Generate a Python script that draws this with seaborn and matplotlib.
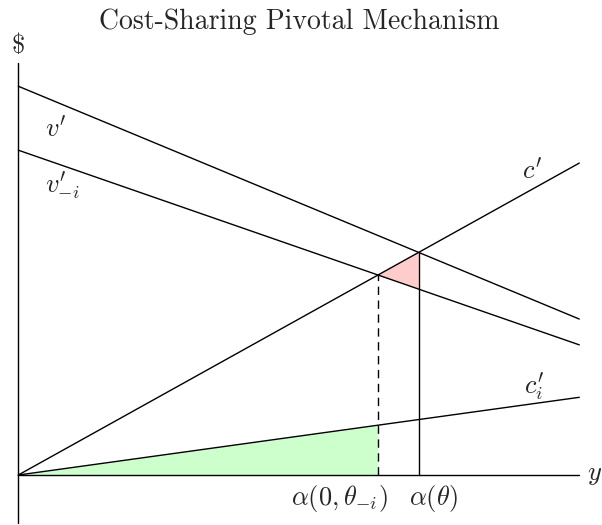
import matplotlib
matplotlib.use("Agg")
import matplotlib.pyplot as plt
import seaborn as sns
import numpy as np
import pandas as pd

sns.set_style("white")
plt.rcParams['mathtext.fontset'] = 'cm'
plt.rcParams['font.family'] = ['cmr10', 'DejaVu Sans']

# quantity axis (y) end points, and curve values there
quantity = [0, 10]
v_prime = [6.93, 2.78]       # v'
v_minus_i = [5.79, 2.32]     # v'_{-i}
c_prime = [0, 5.56]          # c'
c_i = [0, 1.385]             # c'_i

df = pd.DataFrame({'y': quantity * 4,
                   'value': v_prime + v_minus_i + c_prime + c_i,
                   'curve': ['v'] * 2 + ['v_i'] * 2 + ['c'] * 2 + ['c_i'] * 2})


def line_coef(vals):
    slope = (vals[1] - vals[0]) / (quantity[1] - quantity[0])
    return slope, vals[0] - slope * quantity[0]


def cross(a, b):
    sa, ia = line_coef(a)
    sb, ib = line_coef(b)
    return (ib - ia) / (sa - sb)


alpha_theta = cross(v_prime, c_prime)
alpha_0 = cross(v_minus_i, c_prime)

fig = plt.figure(figsize=(6.02, 5.25), dpi=100)
ax = fig.add_axes([0, 0, 1, 1])

sns.lineplot(data=df, x='y', y='value', units='curve', estimator=None,
             color='black', linewidth=1.0, ax=ax, legend=False)

# shaded regions
xs = np.linspace(0, alpha_0, 50)
ax.fill_between(xs, 0, np.interp(xs, quantity, c_i), color='#ccffcc', lw=0, zorder=1)
tri_x = [alpha_0, alpha_theta, alpha_theta]
tri_y = [np.interp(alpha_0, quantity, c_prime),
         np.interp(alpha_theta, quantity, c_prime),
         np.interp(alpha_theta, quantity, v_minus_i)]
ax.fill(tri_x, tri_y, color='#ffcccc', lw=0, zorder=1)

# vertical markers
ax.plot([alpha_theta, alpha_theta], [0, tri_y[1]], color='black', lw=1.0)
ax.plot([alpha_0, alpha_0], [0, tri_y[0]], color='black', lw=1.0, ls=(0, (6, 4)))

# axes
ax.plot([0, 10.0], [0, 0], color='black', lw=1.0)
ax.plot([0, 0], [-0.86, 7.35], color='black', lw=1.0)

ax.set_xlim(-0.326, 10.405)
ax.set_ylim(-0.891, 8.467)
ax.axis('off')

fs = 19
ax.text(5.0, 8.08, 'Cost-Sharing Pivotal Mechanism', ha='center', va='center', fontsize=20)
ax.text(0, 7.66, r'$\$$', ha='center', va='center', fontsize=fs)
ax.text(10.27, 0, r'$y$', ha='center', va='center', fontsize=fs)
ax.text(0.66, 6.18, r"$v^{\prime}$", ha='center', va='center', fontsize=fs)
ax.text(0.78, 5.15, r"$v^{\prime}_{-i}$", ha='center', va='center', fontsize=fs)
ax.text(9.16, 5.42, r"$c^{\prime}$", ha='center', va='center', fontsize=fs)
ax.text(9.2, 1.58, r"$c^{\prime}_i$", ha='center', va='center', fontsize=fs)
ax.text(5.73, -0.42, r'$\alpha(0,\theta_{-i})$', ha='center', va='center', fontsize=fs)
ax.text(7.41, -0.42, r'$\alpha(\theta)$', ha='center', va='center', fontsize=fs)

fig.savefig('out.png', dpi=100)
